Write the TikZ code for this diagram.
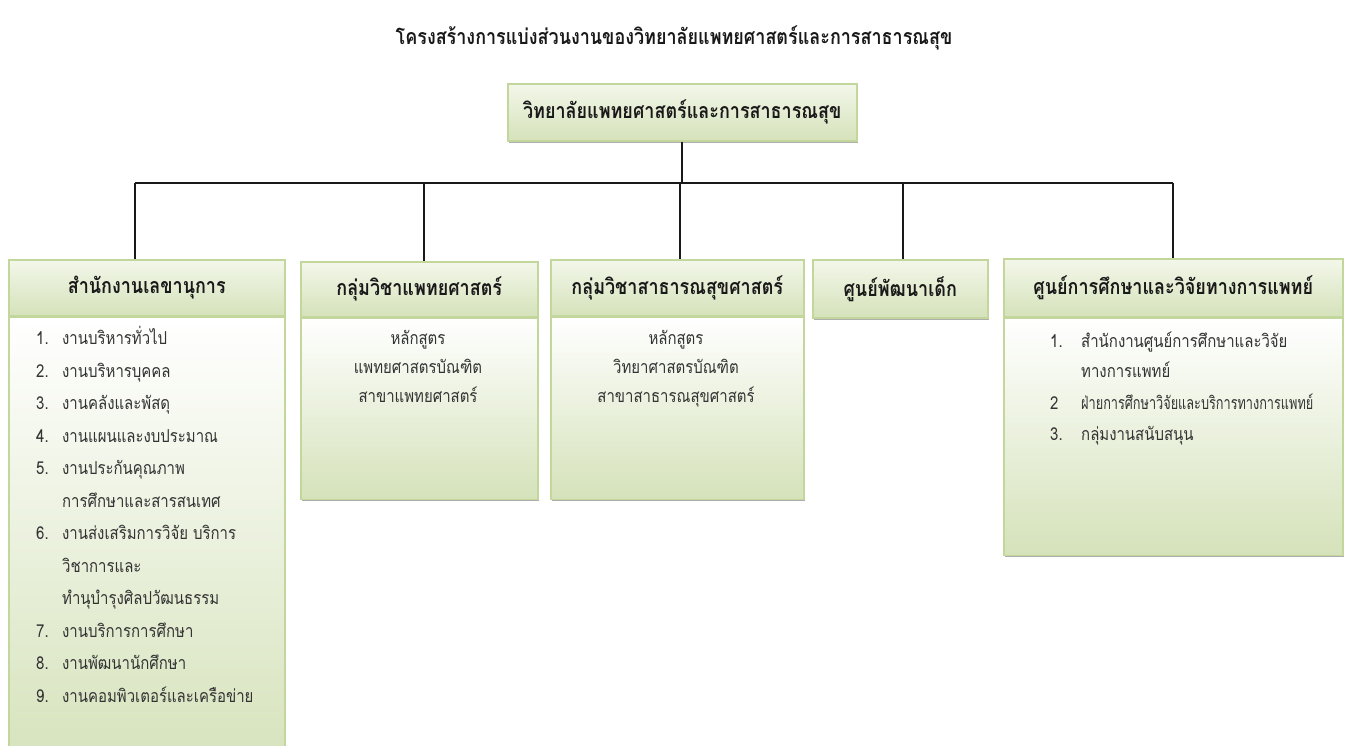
\documentclass[tikz,border=0pt]{standalone}
\usepackage{fontspec}
\setmainfont[Script=Thai, FakeStretch=0.84]{Loma}
\usetikzlibrary{shadows}
\definecolor{brd}{HTML}{C3D69B}
\definecolor{gtop}{HTML}{F3F7EA}
\definecolor{gbot}{HTML}{D5E2BA}
\definecolor{txt}{HTML}{333333}
\tikzset{
  boxbase/.style={draw=brd, line width=1.5pt, rectangle, inner sep=0pt, anchor=north west,
    drop shadow={shadow xshift=1.5pt, shadow yshift=-2pt, fill=black!45, opacity=0.7}},
  hdr/.style={boxbase, top color=gtop, bottom color=gbot, text=black!90,
    font=\bfseries\fontsize{21.4}{24}\selectfont},
  bdy/.style={boxbase, top color=white, bottom color=gbot},
  item/.style={anchor=west, inner sep=0pt, font=\fontsize{17.8}{20}\selectfont, text=txt,
    text height=13pt, text depth=4pt},
  citem/.style={item, anchor=center},
  link/.style={line width=2pt, black!90},
  ttl/.style={inner sep=0pt, font=\bfseries\fontsize{21.4}{24}\selectfont, text=black!90}
}
\begin{document}
\begin{tikzpicture}[x=1pt, y=-1pt]
\useasboundingbox (0,0) rectangle (1347,745);
\begin{scope}
\clip (0,0) rectangle (1347,745);
% title
\node[ttl] (title) at (674,38) {โครงสร้างการแบ่งส่วนงานของวิทยาลัยแพทยศาสตร์และการสาธารณสุข};
% top box
\node[hdr, minimum width=349pt, minimum height=57pt] (top) at (507,83) {วิทยาลัยแพทยศาสตร์และการสาธารณสุข};
% box 1
\node[hdr, minimum width=276pt, minimum height=56pt] (h1) at (8,259) {สำนักงานเลขานุการ};
\node[bdy, minimum width=276pt, minimum height=460pt] (d1) at (h1.south west) {};
% box 2
\node[hdr, minimum width=237pt, minimum height=55pt] (h2) at (300,261) {กลุ่มวิชาแพทยศาสตร์};
\node[bdy, minimum width=237pt, minimum height=181pt] (d2) at (h2.south west) {};
% box 3
\node[hdr, minimum width=253pt, minimum height=56pt] (h3) at (550,259) {กลุ่มวิชาสาธารณสุขศาสตร์};
\node[bdy, minimum width=253pt, minimum height=182pt] (d3) at (h3.south west) {};
% box 4
\node[hdr, minimum width=175pt, minimum height=58pt] (h4) at (812,259) {ศูนย์พัฒนาเด็ก};
% box 5
\node[hdr, minimum width=339pt, minimum height=58pt] (h5) at (1003,258) {ศูนย์การศึกษาและวิจัยทางการแพทย์};
\node[bdy, minimum width=339pt, minimum height=237pt] (d5) at (h5.south west) {};
% connectors
\coordinate (j1) at (135,183);
\coordinate (j2) at (424,183);
\coordinate (j3) at (680,183);
\coordinate (j4) at (903,183);
\coordinate (j5) at (1173,183);
\draw[link] (top.south) -- (top.south |- j1);
\draw[link] (j1) -- (j5);
\draw[link] (j1) -- (j1 |- h1.north);
\draw[link] (j2) -- (j2 |- h2.north);
\draw[link] (j3) -- (j3 |- h3.north);
\draw[link] (j4) -- (j4 |- h4.north);
\draw[link] (j5) -- (j5 |- h5.north);
% box 1 items
\node[item] (a1n) at (36,340) {1.};   \node[item] (a1t) at (62,340) {งานบริหารทั่วไป};
\node[item] (a2n) at (36,372.5) {2.}; \node[item] (a2t) at (62,372.5) {งานบริหารบุคคล};
\node[item] (a3n) at (36,405) {3.};   \node[item] (a3t) at (62,405) {งานคลังและพัสดุ};
\node[item] (a4n) at (36,437.5) {4.}; \node[item] (a4t) at (62,437.5) {งานแผนและงบประมาณ};
\node[item] (a5n) at (36,470) {5.};   \node[item] (a5t) at (62,470) {งานประกันคุณภาพ};
\node[item] (a5u) at (62,502.5) {การศึกษาและสารสนเทศ};
\node[item] (a6n) at (36,535) {6.};   \node[item] (a6t) at (62,535) {งานส่งเสริมการวิจัย บริการ};
\node[item] (a6u) at (62,567.5) {วิชาการและ};
\node[item] (a6v) at (62,600) {ทำนุบำรุงศิลปวัฒนธรรม};
\node[item] (a7n) at (36,632.5) {7.}; \node[item] (a7t) at (62,632.5) {งานบริการการศึกษา};
\node[item] (a8n) at (36,665) {8.};   \node[item] (a8t) at (62,665) {งานพัฒนานักศึกษา};
\node[item] (a9n) at (36,697.5) {9.}; \node[item] (a9t) at (62,697.5) {งานคอมพิวเตอร์และเครือข่าย};
% box 2 text
\node[citem] (b1) at (418,340) {หลักสูตร};
\node[citem] (b2) at (418,369) {แพทยศาสตรบัณฑิต};
\node[citem] (b3) at (418,398) {สาขาแพทยศาสตร์};
% box 3 text
\node[citem] (c1) at (676,340) {หลักสูตร};
\node[citem] (c2) at (676,369) {วิทยาศาสตรบัณฑิต};
\node[citem] (c3) at (676,398) {สาขาสาธารณสุขศาสตร์};
% box 5 items
\node[item] (e1n) at (1050,343) {1.}; \node[item] (e1t) at (1081,343) {สำนักงานศูนย์การศึกษาและวิจัย};
\node[item] (e1u) at (1081,373) {ทางการแพทย์};
\node[item] (e2n) at (1050,405) {2};  \node[item] (e2t) at (1081,405) {\scalebox{0.85}[1]{ฝ่ายการศึกษาวิจัยและบริการทางการแพทย์}};
\node[item] (e3n) at (1050,436) {3.}; \node[item] (e3t) at (1081,436) {กลุ่มงานสนับสนุน};
\end{scope}
\end{tikzpicture}
\end{document}
